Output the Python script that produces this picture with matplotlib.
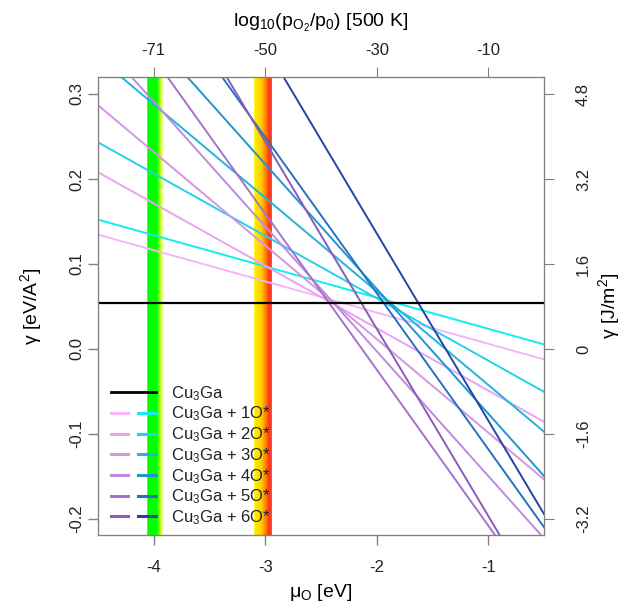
import numpy as np
import matplotlib
matplotlib.use("Agg")
import matplotlib.pyplot as plt
from matplotlib.colors import LinearSegmentedColormap
from matplotlib.legend_handler import HandlerTuple
from matplotlib.lines import Line2D

plt.rcParams['font.family'] = ['Liberation Sans', 'DejaVu Sans']
plt.rcParams['mathtext.fontset'] = 'custom'
plt.rcParams['mathtext.rm'] = 'Liberation Sans'
plt.rcParams['mathtext.it'] = 'Liberation Sans:italic'
plt.rcParams['text.color'] = '#222222'

# clean surface energy (eV/A^2)
GAMMA_CLEAN = 0.0545
# slope per adsorbed O (eV/A^2 per eV)
SLOPE_PER_O = 0.0367
EV_A2_TO_J_M2 = 16.0218

n_oxygen = [1, 2, 3, 4, 5, 6]
# chemical potential where each phase crosses the clean Cu3Ga line
mu_cross_a = [-2.32, -2.41, -2.39, -2.39, -2.43, -2.14]
mu_cross_b = [-1.84, -1.93, -1.88, -1.89, -1.94, -1.63]
colors_a = ['#f8b4f8', '#e8a4f0', '#d496e4', '#c08ade', '#a672cc', '#8a5cba']
colors_b = ['#10eef2', '#22d2e8', '#22b4dc', '#2294d2', '#2672c0', '#2446a2']

# shaded mu ranges
green_band = (-4.06, -3.92)
red_band = (-3.10, -2.94)

mu_ticks = [-4, -3, -2, -1]
top_labels = ['-71', '-50', '-30', '-10']
y_ticks = [-0.2, -0.1, 0.0, 0.1, 0.2, 0.3]
y_labels = ['-0.2', '-0.1', '0.0', '0.1', '0.2', '0.3']
y2_ticks = [-3.2, -1.6, 0, 1.6, 3.2, 4.8]
y2_labels = ['-3.2', '-1.6', '0', '1.6', '3.2', '4.8']

XLIM = (-4.5, -0.5)
YLIM = (-0.219, 0.32)
AX_COL = '#808080'
TICK_FS = 12
LABEL_FS = 14


def main():
    fig = plt.figure(figsize=(6.29, 6.13), dpi=100)
    ax = fig.add_axes([98 / 629, 1 - 535 / 613, 446 / 629, 458 / 613])

    green = LinearSegmentedColormap.from_list('g', [(0, '#80ff80'), (0.06, '#00ff00'), (0.62, '#00ff00'),
                                                   (0.85, '#b8ff20'), (1, '#ffffa0')])
    red = LinearSegmentedColormap.from_list('r', [(0, '#ffff60'), (0.05, '#ffee00'), (0.4, '#ffd000'),
                                                 (0.7, '#ff7000'), (0.85, '#ff3010'), (1, '#ff5050')])
    grad = np.linspace(0, 1, 200).reshape(1, -1)
    for band, cm in [(green_band, green), (red_band, red)]:
        ax.imshow(grad, cmap=cm, aspect='auto', extent=[band[0], band[1], YLIM[0], YLIM[1]],
                  zorder=0, interpolation='bilinear')

    mu = np.linspace(XLIM[0], XLIM[1], 200)
    ax.plot(mu, np.full_like(mu, GAMMA_CLEAN), color='black', lw=1.6, zorder=3)
    for n, ma, mb, ca, cb in zip(n_oxygen, mu_cross_a, mu_cross_b, colors_a, colors_b):
        ax.plot(mu, GAMMA_CLEAN - n * SLOPE_PER_O * (mu - ma), color=ca, lw=1.4, zorder=2)
        ax.plot(mu, GAMMA_CLEAN - n * SLOPE_PER_O * (mu - mb), color=cb, lw=1.4, zorder=2)

    ax.set_xlim(*XLIM)
    ax.set_ylim(*YLIM)
    ax.set_xticks(mu_ticks)
    ax.set_xticklabels([str(t) for t in mu_ticks])
    ax.set_yticks(y_ticks)
    ax.set_yticklabels(y_labels, rotation=90, va='center')
    ax.tick_params(colors=AX_COL, labelcolor='#222222', length=7, width=1, labelsize=TICK_FS)
    ax.tick_params(axis='x', pad=11)
    ax.tick_params(axis='y', pad=3)
    for s in ax.spines.values():
        s.set_color(AX_COL)
    ax.set_xlabel(r'$\mathregular{\mu_O}$ [eV]', fontsize=LABEL_FS, labelpad=5)
    ax.set_ylabel(r'$\mathregular{\gamma}$ [eV/A$\mathregular{^2}$]', fontsize=LABEL_FS, labelpad=18)

    ax_top = ax.twiny()
    ax_top.set_xlim(*XLIM)
    ax_top.set_xticks(mu_ticks)
    ax_top.set_xticklabels(top_labels)
    ax_top.tick_params(colors=AX_COL, labelcolor='#222222', length=7, labelsize=TICK_FS, pad=7)
    ax_top.set_xlabel(r'log$\mathregular{_{10}}$(p$\mathregular{_{O_2}}$/p$\mathregular{_0}$) [500 K]',
                      fontsize=LABEL_FS, labelpad=11)

    ax_r = ax.twinx()
    ax_r.set_ylim(YLIM[0] * EV_A2_TO_J_M2, YLIM[1] * EV_A2_TO_J_M2)
    ax_r.set_yticks(y2_ticks)
    ax_r.set_yticklabels(y2_labels, rotation=90, va='center')
    ax_r.tick_params(colors=AX_COL, labelcolor='#222222', length=7, labelsize=TICK_FS, pad=16)
    ax_r.set_ylabel(r'$\mathregular{\gamma}$ [J/m$\mathregular{^2}$]', fontsize=LABEL_FS, labelpad=4)
    for a in (ax_top, ax_r):
        for s in a.spines.values():
            s.set_color(AX_COL)

    handles = [Line2D([], [], color='black', lw=2)]
    labels = [r'Cu$\mathregular{_3}$Ga']
    for n, ca, cb in zip(n_oxygen, colors_a, colors_b):
        handles.append((Line2D([], [], color=ca, lw=2.2), Line2D([], [], color=cb, lw=2.2)))
        labels.append(r'Cu$\mathregular{_3}$Ga + %dO*' % n)
    ax.legend(handles, labels, handler_map={tuple: HandlerTuple(ndivide=None, pad=0.6)},
              loc='lower left', bbox_to_anchor=(0.004, -0.006), frameon=False, fontsize=12,
              handlelength=2.7, handletextpad=0.95, labelspacing=0.12, borderpad=0.15)

    fig.savefig('out.png', dpi=100)


if __name__ == "__main__":
    main()
